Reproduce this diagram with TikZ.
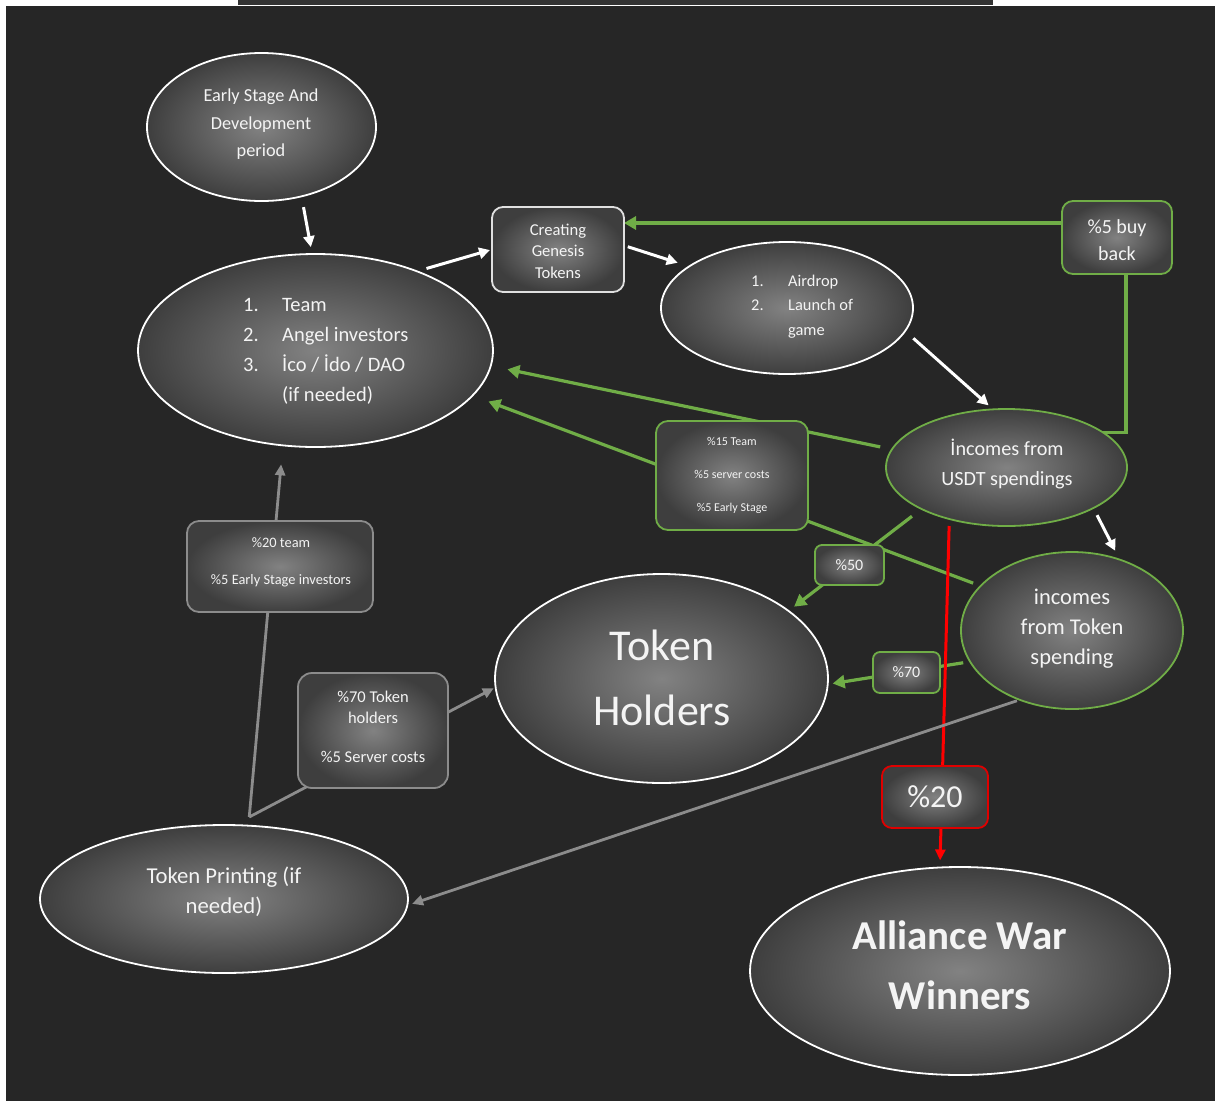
\documentclass[tikz,border=0pt]{standalone}
\usepackage{fontspec}
\setmainfont{Carlito}
\usetikzlibrary{shapes.geometric,arrows.meta}
\pgfdeclarelayer{bg}
\pgfsetlayers{bg,main}
\definecolor{bgc}{HTML}{262626}
\definecolor{shin}{HTML}{828282}
\definecolor{shout}{HTML}{3E3E3E}
\definecolor{grn}{HTML}{70AD47}
\definecolor{gln}{HTML}{8C8C8C}
\definecolor{redl}{HTML}{FF0000}
\definecolor{redb}{HTML}{E00000}
\definecolor{topbar}{HTML}{333333}
\definecolor{txtc}{HTML}{F4F4F4}
\tikzset{
  ell/.style={ellipse, inner sep=0pt, outer sep=0pt, draw=white, line width=1.8pt, inner color=shin, outer color=shout},
  gell/.style={ell, draw=grn},
  box/.style={rectangle, rounded corners=11pt, inner sep=0pt, outer sep=0pt, line width=1.8pt, inner color=shin, outer color=shout, text=txtc, align=center},
  wbox/.style={box, draw=white!88!black},
  gbox/.style={box, draw=grn},
  graybox/.style={box, draw=gln},
  rbox/.style={box, draw=redb},
  txt/.style={text=txtc, align=center, inner sep=0pt},
  wline/.style={draw=white, line width=3pt, -{Triangle[length=11pt,width=11pt]}},
  gline/.style={draw=grn, line width=3.2pt},
  garrow/.style={gline, -{Triangle[length=12pt,width=13pt]}},
  grayarrow/.style={draw=gln, line width=2.8pt, -{Triangle[length=11pt,width=10pt]}},
  redarrow/.style={draw=redl, line width=3pt, -{Triangle[length=11pt,width=10pt]}}
}
\begin{document}
\begin{tikzpicture}[x=1pt,y=-1pt]
\useasboundingbox (0,0) rectangle (1215,1101);
\begin{pgfonlayer}{bg}
\fill[white] (0,0) rectangle (1215,1101);
\fill[bgc] (6,6) rectangle (1215,1101);
\fill[topbar] (238,0) rectangle (993,5);
\end{pgfonlayer}

% shapes
\node[ell, minimum width=229pt, minimum height=148pt] (early) at (261.5,127) {};
\node[ell, minimum width=355pt, minimum height=193pt] (team) at (315.5,350.5) {};
\node[wbox, minimum width=132pt, minimum height=85pt] (genesis) at (558,249.5) {};
\node[ell, minimum width=252pt, minimum height=132pt] (airdrop) at (787,308) {};
\node[gbox, minimum width=110pt, minimum height=73pt] (buyback) at (1117,237.5) {};
\node[gell, minimum width=241pt, minimum height=117pt] (usdt) at (1006.5,467.5) {};
\node[gell, minimum width=222pt, minimum height=157pt] (tokinc) at (1072,630.5) {};
\node[ell, minimum width=333pt, minimum height=209pt] (holders) at (661.5,678.5) {};
\node[ell, minimum width=420pt, minimum height=208pt] (alliance) at (960,971) {};
\node[ell, minimum width=368pt, minimum height=148pt] (tprint) at (224,899) {};

% label boxes
\node[gbox, rounded corners=12pt, minimum width=152pt, minimum height=109pt, font=\fontsize{12}{33}\selectfont] (p15) at (732,475.5) {\%15 Team\\\%5 server costs\\\%5 Early Stage};
\node[gbox, rounded corners=7pt, minimum width=69pt, minimum height=40pt, font=\fontsize{16}{19}\selectfont] (p50) at (849.5,565) {\%50};
\node[gbox, rounded corners=7pt, minimum width=67pt, minimum height=41pt, font=\fontsize{16}{19}\selectfont] (p70) at (906.5,672.5) {\%70};
\node[rbox, rounded corners=10pt, minimum width=106pt, minimum height=62pt, font=\fontsize{32}{36}\selectfont] (p20) at (935,797) {\%20};
\node[graybox, rounded corners=12pt, minimum width=186pt, minimum height=91pt] (p20team) at (280,566.5) {};
\node[graybox, rounded corners=14pt, minimum width=150pt, minimum height=115pt] (p70tok) at (373,730.5) {};

% texts
\node[txt, font=\fontsize{18.3}{27.5}\selectfont] (early-t) at (261,124.5) {Early Stage And\\Development\\period};
\node[txt, anchor=west, align=left, font=\fontsize{20.5}{30}\selectfont] (team-t) at (243,351) {\makebox[39pt][l]{1.}Team\\\makebox[39pt][l]{2.}Angel investors\\\makebox[39pt][l]{3.}İco / İdo / DAO\\\hspace*{39pt}(if needed)};
\node[txt, font=\fontsize{16.6}{21.5}\selectfont] (genesis-t) at (558,251) {Creating\\Genesis\\Tokens};
\node[txt, anchor=west, align=left, font=\fontsize{16.4}{24.5}\selectfont] (airdrop-t) at (751,306.5) {\makebox[37pt][l]{1.}Airdrop\\\makebox[37pt][l]{2.}Launch of\\\hspace*{37pt}game};
\node[txt, font=\fontsize{20}{26.5}\selectfont] (buyback-t) at (1117,240) {\%5 buy\\back};
\node[txt, font=\fontsize{20.2}{30}\selectfont] (usdt-t) at (1007,464) {İncomes from\\USDT spendings};
\node[txt, font=\fontsize{22.5}{30}\selectfont] (tokinc-t) at (1072,628.5) {incomes\\from Token\\spending};
\node[txt, font=\fontsize{44}{65}\selectfont] (holders-t) at (662,677.5) {Token\\Holders};
\node[txt, font=\bfseries\fontsize{41}{60}\selectfont] (alliance-t) at (960,965) {Alliance War\\Winners};
\node[txt, font=\fontsize{22.7}{30}\selectfont] (tprint-t) at (224,892) {Token Printing (if\\needed)};
\node[txt, font=\fontsize{14.4}{37}\selectfont] (p20team-t) at (281,562.5) {\%20 team\\\%5 Early Stage investors};
\node[txt, font=\fontsize{16.5}{21}\selectfont] (p70tok-t) at (373,727) {\%70 Token\\holders\\[18pt]\%5 Server costs};

% connectors
\begin{pgfonlayer}{bg}
\draw[wline, shorten <=11pt, shorten >=7pt] (early.-60) -- (team.92);
\draw[wline, shorten <=10pt, shorten >=2pt] (team.38) -- (genesis.west);
\draw[wline, shorten <=4pt, shorten >=12pt] ([yshift=4pt]genesis.east) -- (airdrop.157);
\draw[wline, shorten <=11pt, shorten >=6pt] (airdrop.-11) -- (usdt.103);
\draw[wline, shorten <=8pt, shorten >=10pt] (usdt.-25) -- (tokinc.56);

\draw[garrow] ([yshift=14.5pt]buyback.west) -- ([yshift=26.5pt]genesis.east);
\draw[gline] (usdt.20) -| ([xshift=9pt]buyback.south);
\draw[garrow, shorten <=12pt, shorten >=17pt] (usdt.171) -- (team.-5);
\draw[garrow, shorten <=8pt, shorten >=17pt] (tokinc.154) -- (team.-16);
\draw[garrow, shorten <=12pt, shorten >=7pt] (usdt.206) -- (holders.28);
\draw[garrow, shorten <=7pt, shorten >=5pt] (tokinc.197) -- (holders.-2);

\draw[redarrow, shorten <=7pt, shorten >=7pt] (usdt.222) -- (alliance.101);

\draw[grayarrow, shorten >=19pt] ([yshift=8.7pt]tprint.71) -- (team.251);
\draw[grayarrow, shorten >=2pt] ([yshift=8.7pt]tprint.71) -- (holders.183);
\draw[grayarrow, shorten <=3pt, shorten >=5pt] (tokinc.233) -- (tprint.-2.5);
\end{pgfonlayer}
\end{tikzpicture}
\end{document}
